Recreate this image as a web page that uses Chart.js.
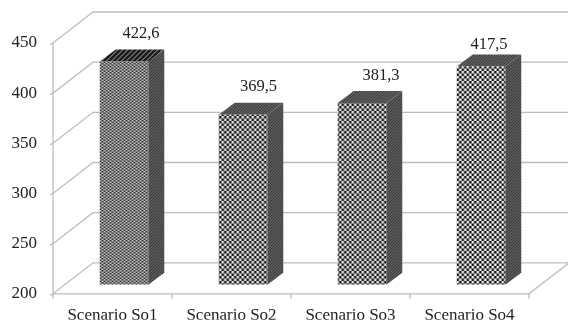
<!DOCTYPE html>
<html>
<head>
<meta charset="utf-8">
<script src="https://cdn.jsdelivr.net/npm/chart.js@4"></script>
<style>
html,body{margin:0;padding:0;background:#fff}
#w{position:relative;width:568px;height:320px;overflow:hidden}
canvas{display:block;filter:blur(0.4px)}
</style>
</head>
<body>
<div id="w"><canvas id="c" width="568" height="320"></canvas></div>
<script>
const categories = ["Scenario So1","Scenario So2","Scenario So3","Scenario So4"];
const values = [422.6,369.5,381.3,417.5];
const valueTexts = ["422,6","369,5","381,3","417,5"];
const yMin = 200, yMax = 450, yStep = 50;

const FONT = '"Liberation Serif"';
const GRID = '#bdbdbd';
const WALL = {dx:40, dy:-31};     // depth of the chart box
const BAR_SHIFT = {dx:11.5, dy:-9}; // bars stand inside the floor
const BAR_DEPTH = {dx:16, dy:-12};
const LABEL_OFFSET = [[17,-28],[15.5,-28],[19,-27],[8,-22]];

function pat(w,h,fn){
  const c=document.createElement('canvas');c.width=w;c.height=h;
  const x=c.getContext('2d');fn(x);
  return document.createElement('canvas').getContext('2d').createPattern(c,'repeat');
}
function checker(sw,sh,a,b){
  return pat(Math.round(sw*2),Math.round(sh*2),x=>{x.fillStyle=a;x.fillRect(0,0,sw*2,sh*2);x.fillStyle=b;x.fillRect(0,0,sw,sh);x.fillRect(sw,sh,sw,sh);});
}
function diag(p,a,b){
  return pat(p,p,x=>{x.fillStyle=a;x.fillRect(0,0,p,p);x.fillStyle=b;
    for(let i=0;i<p;i++){x.fillRect(i,(p-1-i),1,1);}});
}
const frontFill = [checker(2,1.5,'#333','#c4c4c4'),checker(2.5,2.5,'#1a1a1a','#e4e4e4'),checker(2.5,2.5,'#1a1a1a','#e4e4e4'),checker(2.5,2.5,'#111','#f4f4f4')];
const sideFill = diag(3,'#3c3c3c','#777');
const topFill = [diag(5,'#1c1c1c','#aaa'),diag(3,'#3c3c3c','#808080'),diag(3,'#3c3c3c','#808080'),diag(3,'#3c3c3c','#808080')];

const boxPlugin = {
  id:'box',
  beforeDatasetsDraw(chart){
    const {ctx,chartArea:a,scales:{x,y}} = chart;
    ctx.save();
    ctx.strokeStyle=GRID;ctx.lineWidth=1.3;
    for(let v=yMin;v<=yMax;v+=yStep){
      const p=y.getPixelForValue(v);
      ctx.beginPath();
      ctx.moveTo(a.left-3,p+1.5);ctx.lineTo(a.left,p);
      ctx.lineTo(a.left+WALL.dx,p+WALL.dy);ctx.lineTo(chart.width,p+WALL.dy);
      ctx.stroke();
    }
    ctx.beginPath();
    ctx.moveTo(a.left,y.getPixelForValue(yMax));ctx.lineTo(a.left,a.bottom);
    ctx.lineTo(a.right,a.bottom);ctx.lineTo(a.right+WALL.dx,a.bottom+WALL.dy);
    ctx.stroke();
    categories.forEach((_,i)=>{
      const l=x.getPixelForValue(i)-(a.right-a.left)/categories.length/2;
      ctx.beginPath();ctx.moveTo(l,a.bottom);ctx.lineTo(l,a.bottom+5);ctx.stroke();
    });
    ctx.beginPath();ctx.moveTo(a.right,a.bottom);ctx.lineTo(a.right,a.bottom+5);ctx.stroke();
    ctx.restore();
  },
  beforeDatasetDraw(chart){
    const {ctx,scales:{y}}=chart;
    ctx.save();
    ctx.translate(BAR_SHIFT.dx,BAR_SHIFT.dy);
    chart.getDatasetMeta(0).data.forEach((b,i)=>{
      const l=b.x-b.width/2,r=b.x+b.width/2,t=b.y,bt=y.getPixelForValue(yMin);
      const d=BAR_DEPTH;
      ctx.fillStyle=sideFill;
      ctx.beginPath();ctx.moveTo(r,t);ctx.lineTo(r+d.dx,t+d.dy);ctx.lineTo(r+d.dx,bt+d.dy);ctx.lineTo(r,bt);ctx.closePath();ctx.fill();
      ctx.fillStyle=topFill[i];
      ctx.beginPath();ctx.moveTo(l,t);ctx.lineTo(l+d.dx,t+d.dy);ctx.lineTo(r+d.dx,t+d.dy);ctx.lineTo(r,t);ctx.closePath();ctx.fill();
    });
  },
  afterDatasetDraw(chart){
    chart.ctx.restore();
    const {ctx}=chart;
    ctx.save();
    ctx.font='16.5px '+FONT;ctx.fillStyle='#222';ctx.textAlign='center';ctx.textBaseline='middle';
    chart.getDatasetMeta(0).data.forEach((b,i)=>{
      ctx.fillText(valueTexts[i],b.x+BAR_SHIFT.dx+LABEL_OFFSET[i][0],b.y+BAR_SHIFT.dy+LABEL_OFFSET[i][1]);
    });
    ctx.restore();
  }
};

new Chart(document.getElementById('c'),{
  type:'bar',
  data:{labels:categories,datasets:[{data:values,base:yMin,backgroundColor:frontFill,borderWidth:0,
    barPercentage:0.408,categoryPercentage:1}]},
  options:{
    responsive:false,animation:false,
    layout:{padding:{left:0,right:39,top:43,bottom:0}},
    plugins:{legend:{display:false},title:{display:false},tooltip:{enabled:false}},
    scales:{
      x:{afterFit(s){s.height=26;},grid:{display:false,drawTicks:false},border:{display:false},
        ticks:{font:{family:FONT,size:17},color:'#222',padding:12,maxRotation:0,minRotation:0,autoSkip:false}},
      y:{min:yMin,max:yMax,afterFit(s){s.width=53;},
        grid:{display:false,drawTicks:false},border:{display:false},
        ticks:{stepSize:yStep,font:{family:FONT,size:17},color:'#222',padding:16}}
    }
  },
  plugins:[boxPlugin]
});
</script>
</body>
</html>
